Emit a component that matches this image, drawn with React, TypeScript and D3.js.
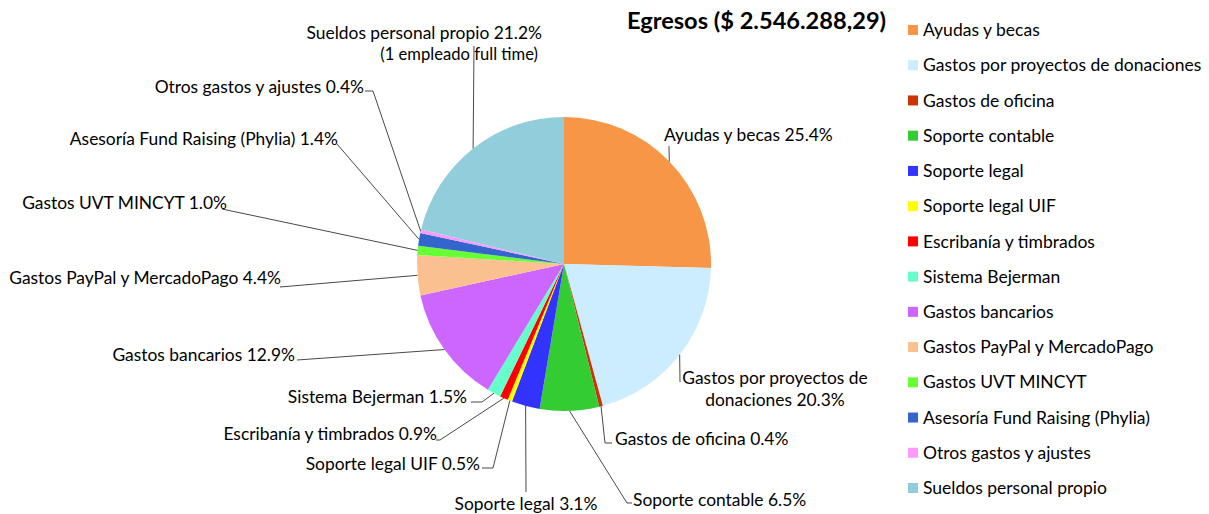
import React from "react";
import * as d3 from "d3";

const categories = [
  "Ayudas y becas",
  "Gastos por proyectos de donaciones",
  "Gastos de oficina",
  "Soporte contable",
  "Soporte legal",
  "Soporte legal UIF",
  "Escribanía y timbrados",
  "Sistema Bejerman",
  "Gastos bancarios",
  "Gastos PayPal y MercadoPago",
  "Gastos UVT MINCYT",
  "Asesoría Fund Raising (Phylia)",
  "Otros gastos y ajustes",
  "Sueldos personal propio",
];
const values = [25.4, 20.3, 0.4, 6.5, 3.1, 0.5, 0.9, 1.5, 12.9, 4.4, 1.0, 1.4, 0.4, 21.2];
const colors = [
  "#F79646", "#CCECFF", "#CC3300", "#33CC33", "#3333FF", "#FFFF00", "#FF0000",
  "#66FFCC", "#CC66FF", "#FAC090", "#66FF33", "#3366CC", "#FF99FF", "#92CDDC",
];
const title = "Egresos ($ 2.546.288,29)";
const sueldosNote = "(1 empleado full time)";

// label layout: text anchor points and leader elbows (layout only)
type Lay = { lines: { x: number; y: number }[]; anchor: string; leader: [number, number][] };
const layout: Lay[] = [
  { lines: [{ x: 664, y: 135 }], anchor: "start", leader: [[669, 146]] },
  { lines: [{ x: 775, y: 378 }, { x: 775, y: 400 }], anchor: "middle", leader: [[680, 382]] },
  { lines: [{ x: 615, y: 439 }], anchor: "start", leader: [[605, 443], [612, 443]] },
  { lines: [{ x: 633, y: 500 }], anchor: "start", leader: [[627, 503], [632, 503]] },
  { lines: [{ x: 526, y: 504 }], anchor: "middle", leader: [[526, 492]] },
  { lines: [{ x: 480, y: 464 }], anchor: "end", leader: [[493, 468], [482, 468]] },
  { lines: [{ x: 437, y: 434 }], anchor: "end", leader: [[440, 440], [436, 440]] },
  { lines: [{ x: 467, y: 397 }], anchor: "end", leader: [[482, 402], [471, 402]] },
  { lines: [{ x: 295, y: 355 }], anchor: "end", leader: [[297, 360]] },
  { lines: [{ x: 281, y: 278 }], anchor: "end", leader: [[280, 287]] },
  { lines: [{ x: 227, y: 203 }], anchor: "end", leader: [[222, 209]] },
  { lines: [{ x: 338, y: 139 }], anchor: "end", leader: [[337, 144]] },
  { lines: [{ x: 364, y: 87 }], anchor: "end", leader: [[373, 91], [365, 91]] },
  { lines: [{ x: 542, y: 33 }, { x: 538, y: 54 }], anchor: "end", leader: [[474, 46]] },
];

const W = 1209, H = 514;
const cx = 564, cy = 264, R = 147;
const FONT = "Lato, 'Open Sans', sans-serif";
const LABEL_SIZE = 17.4;
const NOTE_SIZE = 16.6;
const LEGEND_SIZE = 17.5;

export default function App() {
  const pie = d3.pie<number>().sort(null).value((d) => d)(values);
  const arc = d3.arc<d3.PieArcDatum<number>>().innerRadius(0).outerRadius(R);
  const fmt = (v: number) => v.toFixed(1) + "%";

  const labelLines = (i: number): string[] => {
    const txt = `${categories[i]} ${fmt(values[i])}`;
    if (i === 1) return ["Gastos por proyectos de", `donaciones ${fmt(values[i])}`];
    if (i === 13) return [txt, sueldosNote];
    return [txt];
  };

  const legendY = d3.scaleLinear().domain([0, categories.length - 1]).range([30, 488]);

  return (
    <svg width={W} height={H} style={{ position: "absolute", left: 0, top: 0, background: "#fff" }}
      fontFamily={FONT}>
      <g transform={`translate(${cx},${cy})`}>
        {pie.map((p, i) => (
          <path key={i} d={arc(p) || ""} fill={colors[i]} />
        ))}
      </g>
      {pie.map((p, i) => {
        const a = (p.startAngle + p.endAngle) / 2;
        const sx = cx + R * Math.sin(a), sy = cy - R * Math.cos(a);
        const pts: [number, number][] = [[sx, sy], ...layout[i].leader];
        return (
          <path key={"l" + i} d={d3.line()(pts) || ""} fill="none" stroke="#1a1a1a" strokeWidth={0.8} />
        );
      })}
      {categories.map((_, i) =>
        labelLines(i).map((t, j) => (
          <text key={`t${i}-${j}`} x={layout[i].lines[j].x} y={layout[i].lines[j].y} dy="0.35em"
            textAnchor={layout[i].anchor} fontSize={i === 13 && j === 1 ? NOTE_SIZE : LABEL_SIZE} fill="#000">
            {t}
          </text>
        ))
      )}
      <text x={627} y={21} dy="0.35em" fontSize={23.6} fontWeight="bold" fill="#000">{title}</text>
      {categories.map((c, i) => (
        <g key={"lg" + i} transform={`translate(908,${legendY(i)})`}>
          <rect x={0} y={-5} width={10} height={10} fill={colors[i]} />
          <text x={15} y={0} dy="0.35em" fontSize={LEGEND_SIZE} fill="#000">{c}</text>
        </g>
      ))}
    </svg>
  );
}
